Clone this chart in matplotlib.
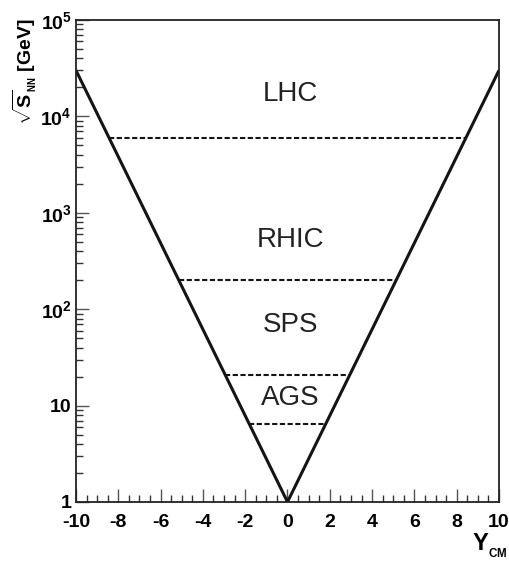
import numpy as np
import matplotlib.pyplot as plt
from matplotlib.ticker import FixedLocator, FuncFormatter, LogLocator, MultipleLocator

plt.rcParams['font.family'] = ['Liberation Sans', 'DejaVu Sans']
plt.rcParams['axes.unicode_minus'] = False
plt.rcParams['mathtext.fontset'] = 'custom'
plt.rcParams['mathtext.rm'] = 'Liberation Sans:bold'
plt.rcParams['mathtext.sf'] = 'Liberation Sans:bold'
plt.rcParams['mathtext.bf'] = 'Liberation Sans:bold'

# rapidity reach vs collision energy (V shape)
y_cm = [-10, 0, 10]
sqrt_s = [3.0e4, 1.0, 3.0e4]

# accelerator boundaries (GeV)
boundaries = [6000, 200, 21, 6.4]

# region labels
regions = ['LHC', 'RHIC', 'SPS', 'AGS']
label_y = [1.7e4, 525, 69, 12]

fig = plt.figure(figsize=(5.09, 5.69), dpi=100)
ax = fig.add_axes([0.1493, 0.1178, 0.831, 0.8471])

ax.set_yscale('log')
ax.set_xlim(-10, 10)
ax.set_ylim(1, 1e5)

ax.plot(y_cm, sqrt_s, color='#141414', lw=2.2, solid_capstyle='butt')

# dashed lines end on the V edges
slope = np.log10(sqrt_s[-1]) / y_cm[-1]
for e in boundaries:
    half = np.log10(e) / slope
    ax.plot([-half, half], [e, e], color='#141414', lw=1.5, ls=(0, (2.5, 1.2)))

for name, yv in zip(regions, label_y):
    ax.text(0.15, yv, name, ha='center', va='center', fontsize=20,
            color='#222222', fontweight='normal')

ax.xaxis.set_major_locator(MultipleLocator(2))
ax.xaxis.set_minor_locator(MultipleLocator(0.5))
ax.yaxis.set_major_locator(FixedLocator([1, 10, 1e2, 1e3, 1e4, 1e5]))
ax.yaxis.set_minor_locator(LogLocator(base=10, subs=np.arange(2, 10)))


def ylab(v, pos):
    if v == 1:
        return '1'
    if v == 10:
        return '10'
    return r'$\mathbf{10^{%d}}$' % int(round(np.log10(v)))


ax.yaxis.set_major_formatter(FuncFormatter(ylab))
ax.tick_params(which='major', direction='in', length=9.5, width=1.0,
               labelsize=14, color='#555555')
ax.tick_params(which='minor', direction='in', length=5, width=1.0,
               color='#333333')
ax.tick_params(axis='x', pad=9)
ax.tick_params(axis='y', pad=3)
for lab in ax.get_xticklabels() + ax.get_yticklabels():
    lab.set_fontweight('bold')

for sp in ax.spines.values():
    sp.set_linewidth(1.3)
    sp.set_color('#222222')

fig.text(0.048, 0.968, r'$\sqrt{\mathsf{S}}_{_{\mathsf{NN}}}$ [GeV]',
         rotation=90, ha='center', va='top', fontsize=14, fontweight='bold')
fig.text(0.962, 0.041, r'$\mathsf{Y}_{_{\mathsf{CM}}}$',
         ha='center', va='center', fontsize=17)

fig.savefig('out.png', dpi=100)
